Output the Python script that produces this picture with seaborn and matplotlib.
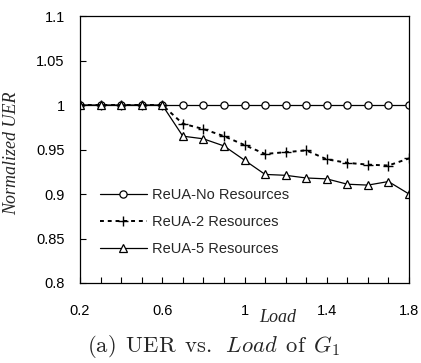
import matplotlib
matplotlib.use("Agg")
import matplotlib.pyplot as plt
import seaborn as sns
import numpy as np
from matplotlib.ticker import MultipleLocator

load = [0.2, 0.3, 0.4, 0.5, 0.6, 0.7, 0.8, 0.9, 1.0, 1.1, 1.2, 1.3, 1.4, 1.5, 1.6, 1.7, 1.8]
no_res = [1.0] * 17
res2 = [1.0, 1.0, 1.0, 1.0, 1.0, 0.979, 0.973, 0.965, 0.955, 0.945, 0.947, 0.949, 0.939, 0.935, 0.933, 0.932, 0.940]
res5 = [1.0, 1.0, 1.0, 1.0, 1.0, 0.965, 0.962, 0.954, 0.938, 0.922, 0.921, 0.918, 0.917, 0.911, 0.910, 0.914, 0.900]
labels = ["ReUA-No Resources", "ReUA-2 Resources", "ReUA-5 Resources"]

sns.set_style("white")
plt.rcParams['font.family'] = ['Liberation Sans', 'DejaVu Sans']
plt.rcParams['mathtext.fontset'] = 'cm'

fig = plt.figure(figsize=(4.21, 3.63), dpi=100)
ax = fig.add_axes([80/421, 1-283/363, (409-80)/421, (283-16)/363])

sns.lineplot(x=load, y=no_res, ax=ax, marker='o', linewidth=0.9, label=labels[0], color='black')
sns.lineplot(x=load, y=res2, ax=ax, marker='+', linewidth=1.4, label=labels[1], color='black')
sns.lineplot(x=load, y=res5, ax=ax, marker='^', linewidth=0.9, label=labels[2], color='black')

l1, l2, l3 = ax.lines[:3]
for ln in (l1, l3):
    ln.set_markerfacecolor('white')
    ln.set_markeredgecolor('black')
    ln.set_markeredgewidth(0.9)
    ln.set_markersize(5.2)
l2.set_dashes([2, 2])
l2.set_markeredgecolor('black')
l2.set_markeredgewidth(1.0)
l2.set_markersize(6.5)

ax.set_xlim(0.2, 1.8)
ax.set_ylim(0.8, 1.1)
ax.set_xticks([0.2, 0.6, 1.0, 1.4, 1.8])
ax.set_xticklabels(["0.2", "0.6", "1", "1.4", "1.8"])
ax.xaxis.set_minor_locator(MultipleLocator(0.1))
ax.set_yticks([0.8, 0.85, 0.9, 0.95, 1.0, 1.05, 1.1])
ax.set_yticklabels(["0.8", "0.85", "0.9", "0.95", "1", "1.05", "1.1"])
ax.tick_params(axis='both', which='both', direction='in', labelsize=10.5, colors='black')
ax.tick_params(axis='x', which='major', length=4, width=0.8, pad=15)
ax.tick_params(axis='x', which='minor', length=4, width=0.8)
ax.tick_params(axis='y', which='major', length=4, width=0.8, pad=11)
ax.tick_params(bottom=True, left=True, which='both')
for s in ax.spines.values():
    s.set_color('black')
    s.set_linewidth(0.9)

ax.set_xlabel("")
ax.set_ylabel("Normalized UER", family=['Liberation Serif'], style='italic', fontsize=13)
ax.yaxis.set_label_coords(-0.182, 0.485)

leg = ax.legend(loc='upper left', bbox_to_anchor=(0.061, 0.355), frameon=False, fontsize=10.5,
                handlelength=3.2, handletextpad=0.35, labelspacing=0.9, borderaxespad=0, borderpad=0)

fig.text(278/421, 1-317/363, "Load", family=['Liberation Serif'], style='italic', fontsize=13, ha='center', va='center')
fig.text(214/421, 1-347/363, r"$\mathrm{(a)\ \,UER\ \,vs.\ \,}\mathit{Load}\mathrm{\ \,of\ \,}G_1$", fontsize=16.3, ha='center', va='center')

fig.savefig("out.png", dpi=100)
